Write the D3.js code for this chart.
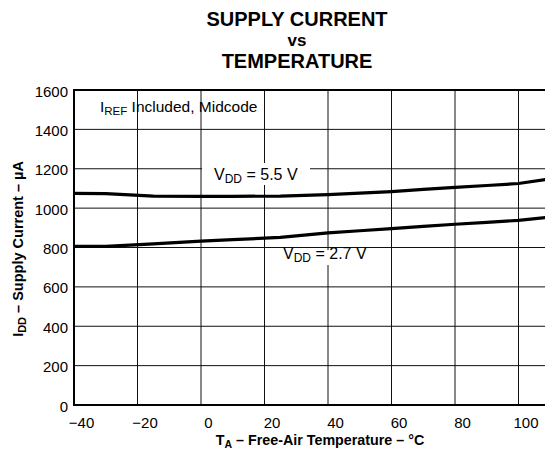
<!DOCTYPE html>
<html><head><meta charset="utf-8">
<script src="https://cdn.jsdelivr.net/npm/d3@7"></script>
<style>
html,body{margin:0;padding:0;background:#fff;}
svg{display:block;font-family:"Liberation Sans",Arial,Helvetica,sans-serif;}
</style></head>
<body>
<svg id="chart" width="545" height="455"></svg>
<script>
const temps   = [-40, -30, -15, 0, 10, 25, 40, 50, 60, 70, 80, 90, 100, 110];
const vdd55   = [1075, 1074, 1061, 1060, 1060, 1061, 1069, 1076, 1084, 1095, 1105, 1115, 1125, 1148];
const vdd27   = [806, 806, 818, 832, 840, 851, 874, 885, 896, 907, 918, 928, 938, 955];
const xTicks  = [-40, -20, 0, 20, 40, 60, 80, 100];
const yTicks  = [0, 200, 400, 600, 800, 1000, 1200, 1400, 1600];
const titleLines = ["SUPPLY CURRENT", "vs", "TEMPERATURE"];

const svg = d3.select("#chart");
const L = 74, T = 90, B = 405;
const x = d3.scaleLinear().domain([-40, 110]).range([L, L + 150 * 3.175]);
const y = d3.scaleLinear().domain([0, 1600]).range([B, T]);
const R = 545;

// title
const tt = svg.append("g").attr("font-weight", "bold").attr("text-anchor", "middle").attr("fill", "#000");
tt.append("text").attr("x", 297).attr("y", 26).attr("font-size", 20).text(titleLines[0]);
tt.append("text").attr("x", 297).attr("y", 46).attr("font-size", 17).text(titleLines[1]);
tt.append("text").attr("x", 297).attr("y", 68).attr("font-size", 20).text(titleLines[2]);

// clip
svg.append("clipPath").attr("id", "clip").append("rect")
  .attr("x", L).attr("y", T).attr("width", R - L).attr("height", B - T);

const plot = svg.append("g").attr("clip-path", "url(#clip)");

// grid
plot.append("g").selectAll("line").data(xTicks.slice(1)).join("line")
  .attr("x1", d => x(d)).attr("x2", d => x(d)).attr("y1", T).attr("y2", B)
  .attr("stroke", "#111").attr("stroke-width", 1);
plot.append("g").selectAll("line").data(yTicks.slice(1, -1)).join("line")
  .attr("x1", L).attr("x2", R).attr("y1", d => y(d)).attr("y2", d => y(d))
  .attr("stroke", "#111").attr("stroke-width", 1);

// label backgrounds
plot.append("rect").attr("x", 202).attr("y", 163).attr("width", 108).attr("height", 22).attr("fill", "#fff");
plot.append("rect").attr("x", 280).attr("y", 250).attr("width", 90).attr("height", 15).attr("fill", "#fff");

// curves
const line = d3.line().x((d, i) => x(temps[i])).y(d => y(d));
plot.append("path").datum(vdd55).attr("d", line).attr("fill", "none").attr("stroke", "#000").attr("stroke-width", 3.2);
plot.append("path").datum(vdd27).attr("d", line).attr("fill", "none").attr("stroke", "#000").attr("stroke-width", 3.2);

// border
svg.append("path").attr("d", `M${R + 5},${T}H${L}V${B}H${R + 5}`)
  .attr("fill", "none").attr("stroke", "#000").attr("stroke-width", 2);

// axes labels
const xAxis = d3.axisBottom(x).tickValues(xTicks).tickSize(0).tickPadding(0)
  .tickFormat(d => d < 0 ? "\u2212" + Math.abs(d) : String(d));
const gx = svg.append("g").attr("transform", `translate(0,${B})`).call(xAxis);
gx.select(".domain").remove();
gx.selectAll("text").attr("font-size", 15).attr("font-family", "Liberation Sans, Arial, sans-serif")
  .attr("fill", "#000").attr("dx", 7).attr("dy", 0).attr("y", 23);

const yAxis = d3.axisLeft(y).tickValues(yTicks).tickSize(0).tickPadding(0).tickFormat(d3.format("d"));
const gy = svg.append("g").attr("transform", `translate(${L},0)`).call(yAxis);
gy.select(".domain").remove();
gy.selectAll("text").attr("font-size", 15).attr("font-family", "Liberation Sans, Arial, sans-serif")
  .attr("fill", "#000").attr("x", -6).attr("dy", "0.4em");

// axis titles
const xt = svg.append("text").attr("x", 320).attr("y", 445).attr("text-anchor", "middle")
  .attr("font-weight", "bold").attr("font-size", 14.3);
xt.append("tspan").text("T");
xt.append("tspan").attr("font-size", 10.5).attr("dy", 3).text("A");
xt.append("tspan").attr("dy", -3).text(" \u2013 Free-Air Temperature \u2013 \u00B0C");

const yt = svg.append("text").attr("transform", "translate(23,249) rotate(-90)").attr("text-anchor", "middle")
  .attr("font-weight", "bold").attr("font-size", 14.5);
yt.append("tspan").text("I");
yt.append("tspan").attr("font-size", 11).attr("dy", 3).text("DD");
yt.append("tspan").attr("dy", -3).text(" \u2013 Supply Current \u2013 \u00B5A");

// annotations
const a1 = svg.append("text").attr("x", 100).attr("y", 112).attr("font-size", 15.5);
a1.append("tspan").text("I");
a1.append("tspan").attr("font-size", 11.5).attr("dy", 3).text("REF");
a1.append("tspan").attr("dy", -3).text(" Included, Midcode");

const a2 = svg.append("text").attr("x", 214).attr("y", 180).attr("font-size", 16);
a2.append("tspan").text("V");
a2.append("tspan").attr("font-size", 12).attr("dy", 3).text("DD");
a2.append("tspan").attr("dy", -3).text(" = 5.5 V");

const a3 = svg.append("text").attr("x", 283).attr("y", 259).attr("font-size", 16);
a3.append("tspan").text("V");
a3.append("tspan").attr("font-size", 12).attr("dy", 3).text("DD");
a3.append("tspan").attr("dy", -3).text(" = 2.7 V");
</script>
</body></html>
